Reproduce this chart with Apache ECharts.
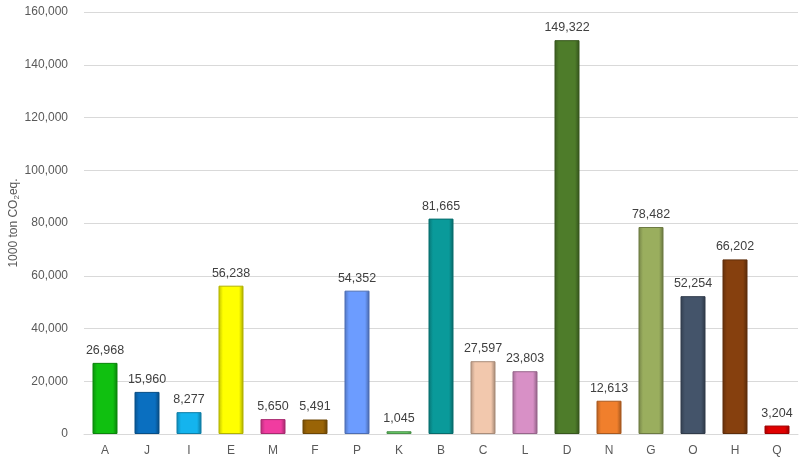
<!DOCTYPE html>
<html><head><meta charset="utf-8">
<script src="https://cdn.jsdelivr.net/npm/echarts@6/dist/echarts.min.js"></script>
<style>html,body{margin:0;padding:0;background:#fff}#c{width:806px;height:464px}</style>
</head><body><div id="c"></div>
<script>
const categories = ['A','J','I','E','M','F','P','K','B','C','L','D','N','G','O','H','Q'];
const values = [26968,15960,8277,56238,5650,5491,54352,1045,81665,27597,23803,149322,12613,78482,52254,66202,3204];
const colors = ['#10c010','#0a6fc0','#14b4ee','#ffff00','#f03ca0','#9a6406','#6c9cff','#6ad06a','#0a9a9a','#f2c8ad','#d890c6','#4e7c2a','#f07f2c','#9aae5e','#44546a','#86400e','#e00000'];
const yTicks = [0,20000,40000,60000,80000,100000,120000,140000,160000];

function shade(hex, f){
  const n=parseInt(hex.slice(1),16);
  let r=(n>>16)&255,g=(n>>8)&255,b=n&255;
  const m=v=>Math.max(0,Math.min(255,Math.round(f<0? v*(1+f) : v+(255-v)*f)));
  return 'rgb('+m(r)+','+m(g)+','+m(b)+')';
}
const chart = echarts.init(document.getElementById('c'));
const fmt = v => v.toLocaleString('en-US');
chart.setOption({
  animation:false,
  grid:{left:84,right:8,top:12,bottom:30,containLabel:false,outerBoundsMode:'none'},
  xAxis:{type:'category',data:categories,
    axisLine:{lineStyle:{color:'#d9d9d9'}},axisTick:{show:false},
    axisLabel:{color:'#595959',fontSize:12,fontFamily:'Liberation Sans',margin:11}},
  yAxis:{type:'value',min:yTicks[0],max:yTicks[yTicks.length-1],interval:20000,
    name:'{a|1000 ton CO}{s|2}{a|eq.}',nameLocation:'middle',nameGap:63,nameRotate:90,nameMoveOverlap:false,
    nameTextStyle:{rich:{a:{color:'#595959',fontSize:12,fontFamily:'Liberation Sans'},s:{color:'#595959',fontSize:8,fontFamily:'Liberation Sans',padding:[6,0,0,0]}}},
    axisLine:{show:false},axisTick:{show:false},
    splitLine:{lineStyle:{color:'#d9d9d9'}},
    axisLabel:{color:'#595959',fontSize:12,fontFamily:'Liberation Sans',margin:16,formatter:v=>fmt(v)}},
  series:[{type:'bar',barWidth:25,
    data:values.map((v,i)=>({value:v,itemStyle:{
      color:{type:'linear',x:0,y:0,x2:1,y2:0,colorStops:[
        {offset:0,color:shade(colors[i],-0.25)},{offset:0.18,color:colors[i]},
        {offset:0.82,color:colors[i]},{offset:1,color:shade(colors[i],-0.35)}]},
      borderColor:shade(colors[i],-0.3),borderWidth:1}})),
    label:{show:true,position:'top',distance:6,color:'#404040',fontSize:12.5,fontFamily:'Liberation Sans',formatter:p=>fmt(p.value)}
  }]
});
</script></body></html>
